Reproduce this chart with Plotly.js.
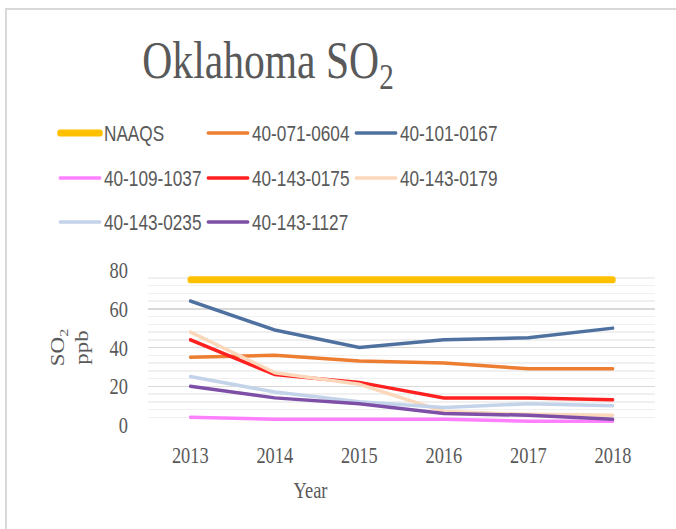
<!DOCTYPE html>
<html>
<head>
<meta charset="utf-8">
<script src="https://cdn.plot.ly/plotly-3.0.1.min.js"></script>
<style>
  html, body { margin: 0; padding: 0; background: #fff; overflow: hidden; width: 676px; height: 529px; }
  #frameTop { position: absolute; left: 5px; top: 8px; width: 671px; height: 2px; background: #d9d9d9; }
  #frameLeft { position: absolute; left: 5px; top: 8px; width: 2px; height: 521px; background: #d9d9d9; }
  #wrap { position: absolute; left: 0; top: 0; width: 845px; height: 529px; transform: scaleX(0.8); transform-origin: 0 0; }
  #chart { width: 845px; height: 529px; }
  .scatterlayer path.js-line, .legendlines path { stroke-linecap: round; }
</style>
</head>
<body>
<div id="frameTop"></div>
<div id="frameLeft"></div>
<div id="wrap"><div id="chart"></div></div>
<script>
const years = ['2013', '2014', '2015', '2016', '2017', '2018'];
const seriesNames = ['NAAQS', '40-071-0604', '40-101-0167', '40-109-1037', '40-143-0175', '40-143-0179', '40-143-0235', '40-143-1127'];
const naaqs      = [75, 75, 75, 75, 75, 75];
const s40_071_0604 = [35, 36, 33, 32, 29, 29];
const s40_101_0167 = [64, 49, 40, 44, 45, 50];
const s40_109_1037 = [4, 3, 3, 3, 2, 2];
const s40_143_0175 = [44, 26, 22, 14, 14, 13];
const s40_143_0179 = [48, 27, 21, 7, 5.5, 5];
const s40_143_0235 = [25, 17, 12, 9, 11, 10];
const s40_143_1127 = [20, 14, 11, 6, 5, 3];
const yTickVals = [0, 20, 40, 60, 80];

const values = [naaqs, s40_071_0604, s40_101_0167, s40_109_1037, s40_143_0175, s40_143_0179, s40_143_0235, s40_143_1127];
const colors = ['#FFC000', '#ED7D31', '#4F71A0', '#FF80FF', '#FF2020', '#FBD7BB', '#C3D3E9', '#7E4FA6'];
const widths = [7, 3.5, 3.5, 3.5, 3.5, 3.5, 3.5, 3.5];
const legendOf = ['legend', 'legend', 'legend', 'legend2', 'legend2', 'legend2', 'legend3', 'legend3'];

const traces = seriesNames.map((n, i) => ({
  type: 'scatter', mode: 'lines', name: n, x: years, y: values[i],
  line: { color: colors[i], width: widths[i] },
  legend: legendOf[i], hoverinfo: 'skip'
}));

const legFont = { family: 'Liberation Sans, Arial, sans-serif', size: 21.5, color: '#595959' };
function leg(yPix) {
  return {
    orientation: 'h', xref: 'container', yref: 'container',
    x: 70 / 845, xanchor: 'left', y: 1 - yPix / 529, yanchor: 'middle',
    font: legFont, entrywidth: 120, entrywidthmode: 'pixels',
    itemwidth: 50, bgcolor: 'rgba(0,0,0,0)', traceorder: 'normal'
  };
}

const serif = 'Liberation Serif, Times New Roman, serif';
const layout = {
  width: 845, height: 529,
  paper_bgcolor: 'rgba(0,0,0,0)', plot_bgcolor: 'rgba(0,0,0,0)',
  margin: { l: 185, r: 26, t: 270, b: 104 },
  title: {
    text: 'Oklahoma SO<sub>2</sub>', xref: 'container', yref: 'container',
    x: 268 / 676, xanchor: 'center', y: 1 - 60 / 529, yanchor: 'middle',
    font: { family: serif, size: 52, color: '#595959' }
  },
  showlegend: true,
  legend: leg(133), legend2: leg(178), legend3: leg(222),
  xaxis: {
    type: 'category', range: [-0.5, 5.5], showgrid: false, zeroline: false, showline: false, ticks: '',
    tickfont: { family: serif, size: 23, color: '#595959' }, ticklabelstandoff: 14
  },
  yaxis: {
    range: [0, 80], tickvals: yTickVals, ticktext: yTickVals.map(String),
    showgrid: true, gridcolor: '#d9d9d9', gridwidth: 1.5, zeroline: false, showline: false, ticks: '',
    minor: { dtick: 4, showgrid: true, gridcolor: '#f0f0f0', gridwidth: 1.5 },
    tickfont: { family: serif, size: 23, color: '#595959' }, ticklabelstandoff: 24,
    title: { text: 'SO<sub>2</sub><br>ppb', font: { family: serif, size: 23, color: '#595959' }, standoff: 20 }
  },
  annotations: [{
    text: 'Year', xref: 'paper', yref: 'paper', x: (311 / 0.8 - 185) / 634, y: -(490 - 425) / 155,
    xanchor: 'center', yanchor: 'middle', showarrow: false,
    font: { family: serif, size: 23, color: '#595959' }
  }]
};

Plotly.newPlot('chart', traces, layout, { displayModeBar: false, staticPlot: true });
</script>
</body>
</html>
